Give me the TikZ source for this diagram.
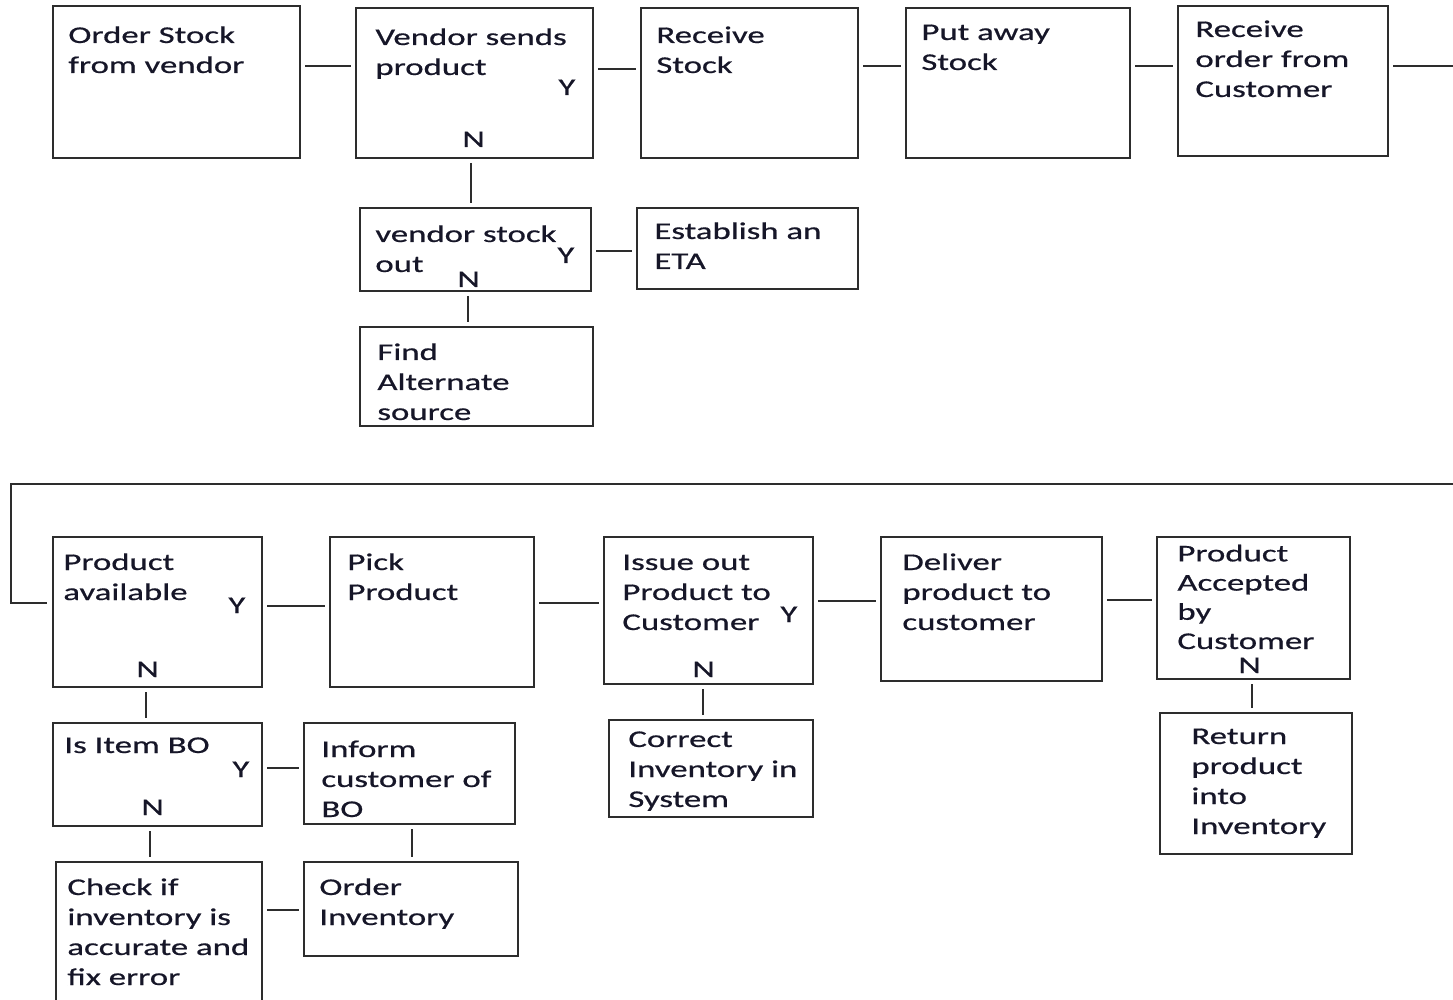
\documentclass[tikz,border=0pt]{standalone}
\usepackage{fontspec}
\setmainfont[FakeStretch=1.45,FakeBold=0.6]{Carlito}
\usetikzlibrary{fit,calc}
\definecolor{txtc}{RGB}{22,22,40}
\definecolor{linec}{RGB}{45,45,45}
\newcommand\mybox[5]{\node[box, fit={(#2,#3) (#4,#5)}] (#1) {};}
\begin{document}
\begin{tikzpicture}[x=0.5pt,y=-0.5pt,
  box/.style={draw=linec, line width=1pt, inner sep=0pt},
  txt/.style={anchor=base west, align=left, inner sep=0pt, text=txtc, font=\fontsize{12}{15}\selectfont},
  conn/.style={draw=linec, line width=1pt, shorten <=2pt, shorten >=2pt}]
\useasboundingbox (0,0) rectangle (1453,1000);
% boxes
\mybox{o1}{53}{6}{300}{158}
\mybox{o2}{356}{8}{593}{158}
\mybox{o3}{641}{8}{858}{158}
\mybox{o4}{906}{8}{1130}{158}
\mybox{o5}{1178}{6}{1388}{156}
\mybox{vs}{360}{208}{591}{291}
\mybox{eta}{637}{208}{858}{289}
\mybox{alt}{360}{327}{593}{426}
\mybox{pa}{53}{537}{262}{687}
\mybox{pick}{330}{537}{534}{687}
\mybox{iss}{604}{537}{813}{684}
\mybox{del}{881}{537}{1102}{681}
\mybox{acc}{1157}{537}{1350}{679}
\mybox{ret}{1160}{713}{1352}{854}
\mybox{cor}{609}{720}{813}{817}
\mybox{bo}{53}{723}{262}{826}
\mybox{inf}{304}{723}{515}{824}
\mybox{chk}{56}{862}{262}{1010}
\mybox{ord}{304}{862}{518}{956}
% texts (anchor = baseline of the last line)
\node[txt] (o1t) at (68,73) {Order Stock\\from vendor};
\node[txt] (o2t) at (375,75) {Vendor sends\\product};
\node[txt] (o2y) at (558,95) {Y};
\node[txt] (o2n) at (462,147) {N};
\node[txt] (o3t) at (656,73) {Receive\\Stock};
\node[txt] (o4t) at (921,70) {Put away\\Stock};
\node[txt] (o5t) at (1195,97) {Receive\\order from\\Customer};
\node[txt] (vst) at (375,272) {vendor stock\\out};
\node[txt] (vsy) at (557,263) {Y};
\node[txt] (vsn) at (457,287) {N};
\node[txt] (etat) at (654,269) {Establish an\\ETA};
\node[txt] (altt) at (377,420) {Find\\Alternate\\source};
\node[txt] (pat) at (63,600) {Product\\available};
\node[txt] (pay) at (228,613) {Y};
\node[txt] (pan) at (136,677) {N};
\node[txt] (pickt) at (347,600) {Pick\\Product};
\node[txt] (isst) at (622,630) {Issue out\\Product to\\Customer};
\node[txt] (issy) at (780,622) {Y};
\node[txt] (issn) at (692,677) {N};
\node[txt] (delt) at (902,630) {Deliver\\product to\\customer};
\node[txt, font=\fontsize{12}{14.6}\selectfont] (acct) at (1177,649) {Product\\Accepted\\by\\Customer};
\node[txt] (accn) at (1238,673) {N};
\node[txt] (rett) at (1191,834) {Return\\product\\into\\Inventory};
\node[txt] (cort) at (628,807) {Correct\\Inventory in\\System};
\node[txt] (bot) at (64,753) {Is Item BO};
\node[txt] (boy) at (232,777) {Y};
\node[txt] (bon) at (141,815) {N};
\node[txt] (inft) at (321,817) {Inform\\customer of\\BO};
\node[txt] (chkt) at (67,985) {Check if\\inventory is\\accurate and\\fix error};
\node[txt] (ordt) at (319,925) {Order\\Inventory};
% free ends
\coordinate (edgeTop) at (1453,66);
\coordinate (edgeBot) at (1453,484);
\coordinate (loopA) at (11,484);
\coordinate (loopB) at (11,603);
% connectors top
\draw[conn] (o1.east |- 0,66) -- (o2.west |- 0,66);
\draw[conn] (o2.east |- 0,69) -- (o3.west |- 0,69);
\draw[conn] (o3.east |- 0,66) -- (o4.west |- 0,66);
\draw[conn] (o4.east |- 0,66) -- (o5.west |- 0,66);
\draw[conn, shorten >=0pt] (o5.east |- edgeTop) -- (edgeTop);
\draw[conn] (o2.south -| 471,0) -- (vs.north -| 471,0);
\draw[conn] (vs.east |- 0,251) -- (eta.west |- 0,251);
\draw[conn] (vs.south -| 468,0) -- (alt.north -| 468,0);
% loop
\draw[draw=linec, line width=1pt, shorten >=2.5pt] (edgeBot) -- (loopA) -- (loopB) -- (pa.west |- loopB);
% connectors bottom
\draw[conn] (pa.east |- 0,606) -- (pick.west |- 0,606);
\draw[conn] (pick.east |- 0,603) -- (iss.west |- 0,603);
\draw[conn] (iss.east |- 0,601) -- (del.west |- 0,601);
\draw[conn] (del.east |- 0,600) -- (acc.west |- 0,600);
\draw[conn] (acc.south -| 1252,0) -- (ret.north -| 1252,0);
\draw[conn] (iss.south -| 703,0) -- (cor.north -| 703,0);
\draw[conn] (pa.south -| 146,0) -- (bo.north -| 146,0);
\draw[conn] (bo.east |- 0,768) -- (inf.west |- 0,768);
\draw[conn] (bo.south -| 150,0) -- (chk.north -| 150,0);
\draw[conn] (inf.south -| 412,0) -- (ord.north -| 412,0);
\draw[conn] (chk.east |- 0,910) -- (ord.west |- 0,910);
\end{tikzpicture}
\end{document}
